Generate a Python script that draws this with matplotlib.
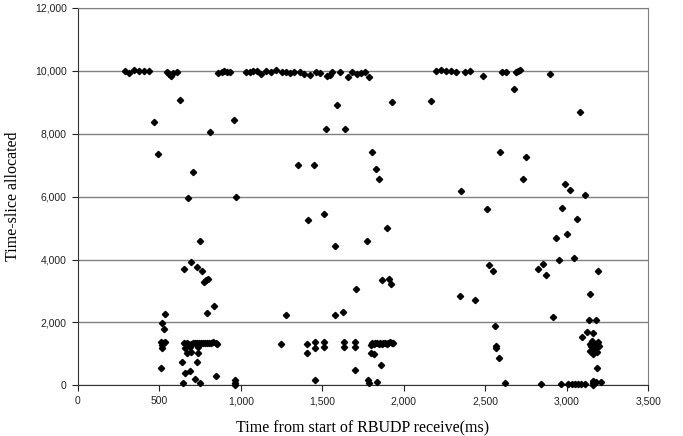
import matplotlib
matplotlib.use('Agg')
import matplotlib.pyplot as plt
from matplotlib.ticker import MultipleLocator, StrMethodFormatter

# waktu (ms) dan time-slice yang dialokasikan, dibaca dari grafik asli
# baris atas (~10000)
top_time = [290, 317, 348, 378, 409, 440, 546, 562, 573, 587, 607,
            863, 883, 900, 916, 936, 1032, 1055, 1077, 1098, 1126, 1155,
            1188, 1216, 1253, 1278, 1302, 1327, 1364, 1388, 1427, 1464,
            1488, 1531, 1546, 1562, 1607, 1656, 1683, 1713, 1736, 1760,
            1787, 2196, 2226, 2257, 2288, 2318, 2376, 2406, 2486, 2605,
            2629, 2690, 2703, 2713, 2897]
top_slice = [10000, 9930, 10020, 10000, 9990, 9990, 9950, 9900, 9850, 9920,
             9950, 9920, 9960, 9980, 9964, 9964, 9953, 9964, 9985, 9996,
             9911, 9985, 9975, 10028, 9964, 9953, 9943, 9953, 9964, 9911,
             9858, 9953, 9943, 9837, 9879, 9953, 9964, 9794, 9975, 9890,
             9943, 9964, 9805, 9985, 10017, 9985, 9985, 9964, 9975, 9996,
             9847, 9953, 9975, 9964, 9996, 10028, 9900]

# titik-titik di tengah
mid_time = [628, 470, 810, 493, 708, 675, 748, 693, 652, 730, 761, 802, 785,
            775, 838, 791, 536, 517, 528, 957, 1589, 1521, 1642, 1803, 1351,
            1447, 973, 1509, 1413, 1576, 1777, 1705, 1276, 1580, 1627, 2676,
            1928, 2169, 1828, 1848, 2590, 2351, 2511, 1899, 2525, 2546, 1869,
            1909, 1920, 2347, 2435, 2562, 3079, 2752, 2729, 2991, 3020, 3110,
            2973, 3061, 3001, 2932, 2952, 3042, 2823, 2852, 2873, 3194, 3145,
            2915, 3136, 3177, 3126, 3159, 3095]
mid_slice = [9074, 8385, 8067, 7356, 6795, 5947, 4600, 3911, 3710, 3763, 3636,
             3392, 3350, 3275, 2533, 2311, 2268, 1982, 1802, 8427, 8915, 8151,
             8151, 7415, 6996, 7007, 5978, 5448, 5258, 4431, 4590, 3053, 2247,
             2247, 2321, 9423, 9000, 9042, 6890, 6561, 7420, 6180, 5607, 5014,
             3837, 3636, 3350, 3392, 3222, 2830, 2724, 1897, 8681, 7250, 6551,
             6402, 6212, 6063, 5629, 5279, 4802, 4696, 3986, 4060, 3710, 3848,
             3498, 3636, 2904, 2162, 2078, 2067, 1696, 1654, 1537]

# kelompok bawah (< 1500)
low_time = [511, 525, 536, 515, 520,
            652, 669, 679, 693, 708, 720, 732, 744, 757, 769, 781, 794, 806,
            818, 830, 846, 855, 659, 689, 740,
            695, 669, 736, 638, 730, 511, 659, 691, 849, 720, 648, 748,
            1247, 1409, 1409, 1458, 1458, 1513, 1513, 1634, 1634, 1701, 1701,
            1799, 1799, 1701, 1458, 967, 967, 967, 1779, 1785,
            1805, 1815, 1825, 1835, 1845, 1855, 1865, 1875, 1885, 1895, 1905,
            1915, 1925, 1935, 1815, 1858, 1838,
            2564, 2568, 2586, 2619,
            3140, 3150, 3160, 3170, 3180, 3190, 3145, 3160, 3175, 3195, 3155,
            3185, 3185, 2844, 2965, 3008, 3029, 3049, 3069, 3090, 3110, 3163,
            3163, 3163, 3179, 3210]
low_slice = [1390, 1340, 1370, 1180, 1280,
             1335, 1335, 1300, 1320, 1335, 1350, 1330, 1360, 1335, 1345, 1330,
             1350, 1340, 1330, 1370, 1350, 1320, 1180, 1210, 1230,
             1060, 1018, 1018, 753, 742, 562, 382, 456, 307, 201, 85, 64,
             1325, 1325, 1018, 1389, 1177, 1389, 1208, 1389, 1208, 1389, 1208,
             1283, 1018, 488, 170, 170, 64, 0, 170, 64,
             1330, 1300, 1360, 1330, 1300, 1350, 1320, 1360, 1330, 1300, 1350,
             1370, 1330, 1360, 986, 647, 106,
             1251, 1187, 880, 74,
             1300, 1250, 1350, 1200, 1300, 1380, 1100, 1000, 1150, 1250, 1400,
             1050, 541, 32, 32, 32, 32, 32, 32, 32, 32, 148,
             64, 0, 106, 95]

time_ms = top_time + mid_time + low_time
slice_alloc = top_slice + mid_slice + low_slice

fig = plt.figure(figsize=(6.83, 4.36), dpi=100)
ax = fig.add_axes([0.1138, 0.1163, 0.8354, 0.8654])

ax.plot(time_ms, slice_alloc, linestyle='none', marker='D', markersize=3.2,
        color='black', clip_on=False, zorder=3)

ax.set_xlim(0, 3500)
ax.set_ylim(0, 12000)
ax.xaxis.set_major_locator(MultipleLocator(500))
ax.yaxis.set_major_locator(MultipleLocator(2000))
ax.xaxis.set_major_formatter(StrMethodFormatter('{x:,.0f}'))
ax.yaxis.set_major_formatter(StrMethodFormatter('{x:,.0f}'))

# garis grid horizontal abu-abu seperti Excel
ax.grid(True, axis='y', color='#808080', linewidth=1)
ax.set_axisbelow(True)
for side in ['top', 'right']:
    ax.spines[side].set_color('#808080')
for side in ['left', 'bottom']:
    ax.spines[side].set_color('#333333')

ax.tick_params(direction='out', length=4, width=0.8, labelsize=7.5,
               colors='#222222', pad=4)
for lbl in ax.get_xticklabels() + ax.get_yticklabels():
    lbl.set_family('Liberation Sans')

ax.set_xlabel('Time from start of RBUDP receive(ms)', fontsize=11.5,
              family='Liberation Serif', labelpad=10)
ax.set_ylabel('Time-slice allocated', fontsize=11.5,
              family='Liberation Serif', labelpad=10)

plt.savefig('out.png', dpi=100)
plt.close()
